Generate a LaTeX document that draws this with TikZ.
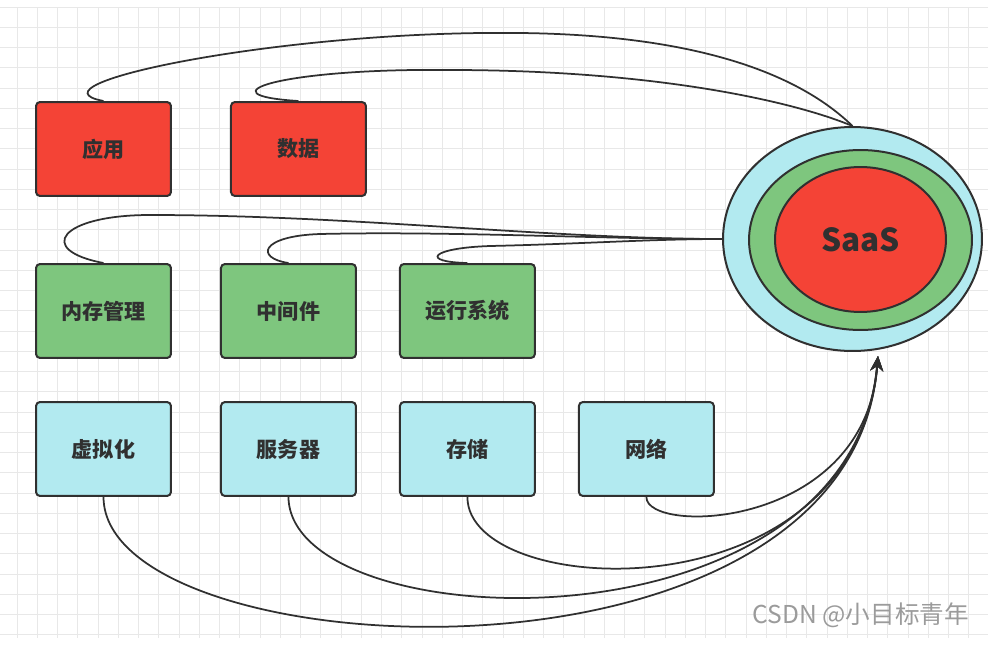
\documentclass[tikz,border=0pt]{standalone}
\usepackage{fontspec}
\usepackage{tikz}
\usetikzlibrary{arrows.meta, positioning, shapes.geometric}
\newfontfamily\cjk{Noto Sans CJK SC}
\definecolor{boxred}{RGB}{244,67,54}
\definecolor{boxgreen}{RGB}{126,198,126}
\definecolor{boxcyan}{RGB}{178,234,240}
\definecolor{edgegray}{RGB}{48,48,48}
\definecolor{gridgray}{RGB}{232,232,232}
\definecolor{markgray}{RGB}{155,155,155}

\begin{document}
\begin{tikzpicture}[
  x=0.02cm, y=-0.02cm,
  node distance=0.84cm and 0.96cm,
  layer/.style={rectangle, rounded corners=0.08cm, draw=edgegray, line width=0.04cm, minimum width=2.7cm, minimum height=1.88cm, font=\cjk\bfseries\fontsize{12}{14}\selectfont, text=edgegray},
  saasbox/.style={layer, fill=boxred},
  paasbox/.style={layer, fill=boxgreen},
  iaasbox/.style={layer, fill=boxcyan},
  ring/.style={ellipse, draw=edgegray, line width=0.04cm, inner sep=0pt},
  link/.style={edgegray, line width=0.035cm},
  gridline/.style={gridgray, line width=0.02cm}
]
\useasboundingbox (0,0) rectangle (988,660);
\fill[white] (0,0) rectangle (988,660);
\foreach \i in {0,...,49} \draw[gridline] ({-3.25+20.25*\i},7) -- ({-3.25+20.25*\i},638);
\foreach \j in {0,...,31} \draw[gridline] (0,{7+20.25*\j}) -- (988,{7+20.25*\j});

\node[saasbox] (app) at (103.5,149) {应用};
\node[saasbox, right=1.16cm of app] (data) {数据};
\node[paasbox] (mem) at (103.5,311) {内存管理};
\node[paasbox, right=0.96cm of mem] (mid) {中间件};
\node[paasbox, right=0.84cm of mid] (os) {运行系统};
\node[iaasbox] (virt) at (103.5,449) {虚拟化};
\node[iaasbox, right=0.96cm of virt] (server) {服务器};
\node[iaasbox, right=0.84cm of server] (store) {存储};
\node[iaasbox, right=0.84cm of store] (net) {网络};

\node[ring, fill=boxcyan, minimum width=5.18cm, minimum height=4.48cm] (iaas) at (852.5,239) {};
\node[ring, fill=boxgreen, minimum width=4.46cm, minimum height=3.6cm] (paas) at (860.5,240) {};
\node[ring, fill=boxred, minimum width=3.42cm, minimum height=2.9cm, font=\cjk\bfseries\fontsize{18}{20}\selectfont, text=edgegray] (saas) at (860.5,239.5) {SaaS};
\coordinate (tip) at (878,356);

\draw[link] (app.north) .. controls (20,85) and (280,30) .. (520,33) .. controls (700,35) and (800,75) .. (iaas.north);
\draw[link] (data.north) .. controls (200,95) and (280,68) .. (450,70) .. controls (650,70) and (790,100) .. (iaas.north);
\draw[link] (mem.north) .. controls (35,250) and (60,215) .. (150,215) .. controls (350,215) and (550,239) .. (iaas.west);
\draw[link] (mid.north) .. controls (255,258) and (260,236) .. (320,234) .. controls (450,231) and (600,239) .. (iaas.west);
\draw[link] (os.north) .. controls (420,262) and (430,248) .. (490,246) .. controls (580,244) and (650,239) .. (iaas.west);

\draw[link, -{Stealth[length=0.3cm, width=0.26cm]}] (virt.south) .. controls (104,670) and (850,710) .. (tip);
\draw[link, -{Stealth[length=0.3cm, width=0.26cm]}] (server.south) .. controls (290,640) and (850,660) .. (tip);
\draw[link, -{Stealth[length=0.3cm, width=0.26cm]}] (store.south) .. controls (467,600) and (855,620) .. (tip);
\draw[link, -{Stealth[length=0.3cm, width=0.26cm]}] (net.south) .. controls (646,535) and (865,530) .. (tip);

\node[font=\cjk\fontsize{14}{16}\selectfont, text=markgray, anchor=east] (mark) at (975,615) {CSDN @小目标青年};
\end{tikzpicture}
\end{document}
